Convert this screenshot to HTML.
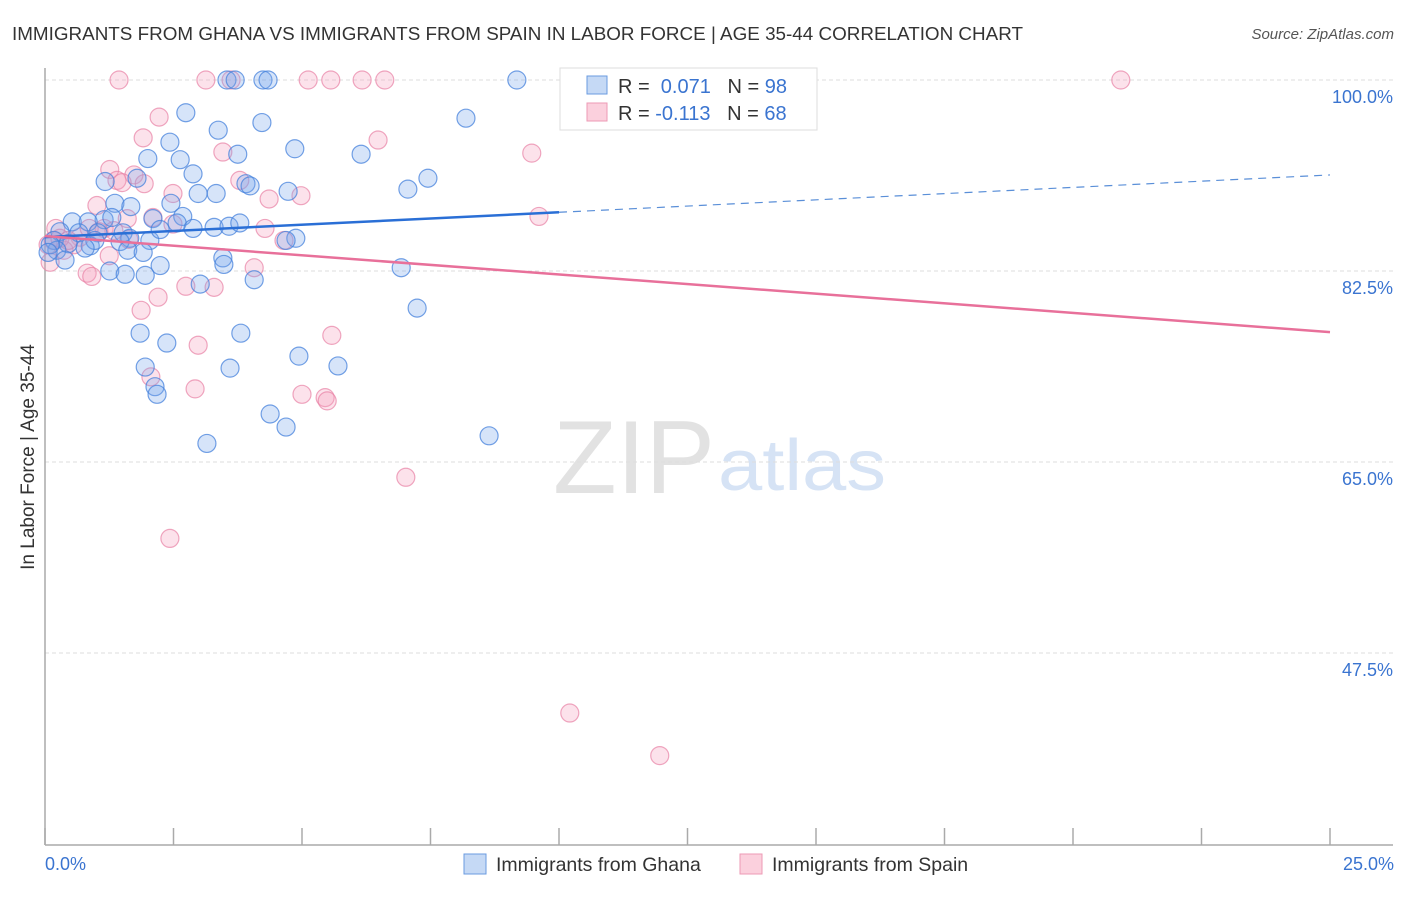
<!DOCTYPE html>
<html><head><meta charset="utf-8"><style>
body{margin:0;background:#fff;font-family:"Liberation Sans",sans-serif;}
svg text{font-family:"Liberation Sans",sans-serif;}
</style></head><body>
<svg width="1406" height="892" viewBox="0 0 1406 892">
<text x="12" y="40" font-size="18" fill="#333" textLength="1011" lengthAdjust="spacingAndGlyphs">IMMIGRANTS FROM GHANA VS IMMIGRANTS FROM SPAIN IN LABOR FORCE | AGE 35-44 CORRELATION CHART</text>
<text x="1394" y="39" font-size="15" fill="#555" text-anchor="end" font-style="italic">Source: ZipAtlas.com</text>
<g>
<text x="553" y="493" font-size="104" fill="#e2e2e2" font-family="Liberation Serif,serif" textLength="162" lengthAdjust="spacingAndGlyphs">ZIP</text>
<text x="718" y="490" font-size="72" fill="#d6e3f5" textLength="168" lengthAdjust="spacingAndGlyphs">atlas</text>
</g>
<g id="grid"></g>
<g id="axes"></g>
<g id="pts"></g>
<g id="trend"></g>
<g>
<rect x="560" y="68" width="257" height="62" fill="#fff" stroke="#ddd"/>
<rect x="587" y="76" width="20" height="18" fill="#c5d9f5" stroke="#6a9be0"/>
<rect x="587" y="103" width="20" height="18" fill="#fbd0dd" stroke="#ec9ab5"/>
<text x="618" y="93" font-size="20" fill="#333">R = <tspan fill="#3a74d0">&#160;0.071</tspan>&#160;&#160;&#160;N = <tspan fill="#3a74d0">98</tspan></text>
<text x="618" y="120" font-size="20" fill="#333">R = <tspan fill="#3a74d0">-0.113</tspan>&#160;&#160;&#160;N = <tspan fill="#3a74d0">68</tspan></text>
</g>
<g>
<rect x="464" y="854" width="22" height="20" fill="#c5d9f5" stroke="#6a9be0"/>
<text x="496" y="871" font-size="19.5" fill="#333">Immigrants from Ghana</text>
<rect x="740" y="854" width="22" height="20" fill="#fbd0dd" stroke="#ec9ab5"/>
<text x="772" y="871" font-size="19.5" fill="#333">Immigrants from Spain</text>
</g>
<text transform="translate(34,457) rotate(-90)" font-size="19" fill="#333" text-anchor="middle">In Labor Force | Age 35-44</text>
</svg>
<script>
const yTicks=[100,82.5,65,47.5];
const yTickLabels=["100.0%","82.5%","65.0%","47.5%"];
const xTickLabels=["0.0%","25.0%"];
const ghanaX=[9.18,3.54,3.70,4.24,4.34,2.74,8.19,3.37,4.22,2.43,4.86,3.75,2.00,6.15,2.63,7.45,7.06,2.88,1.17,1.79,3.91,3.99,4.73,2.98,3.33,1.36,1.67,2.45,2.10,2.68,2.57,2.88,3.29,3.58,3.79,1.15,0.53,0.84,1.30,0.29,0.66,1.03,1.52,1.65,2.04,2.24,0.18,0.45,0.88,0.97,1.46,1.61,1.91,0.23,0.39,0.78,1.26,1.56,1.95,2.24,3.02,3.46,3.48,4.07,6.93,4.88,4.69,7.24,1.85,2.37,3.81,4.94,1.95,3.60,5.70,2.14,2.18,4.38,4.69,3.15,8.64,0.10,0.06];
const ghanaY=[100,100,100,100,100,97.0,96.5,95.4,96.1,94.3,93.7,93.2,92.8,93.2,92.7,91.0,90.0,91.4,90.7,91.0,90.5,90.3,89.8,89.6,89.6,88.7,88.4,88.7,87.3,87.5,86.9,86.4,86.5,86.6,86.9,87.2,87.0,87.0,87.4,86.1,86.0,86.0,86.0,85.5,85.3,86.3,85.3,85.0,84.8,85.3,85.2,84.4,84.2,84.4,83.5,84.6,82.5,82.2,82.1,83.0,81.3,83.7,83.1,81.7,82.8,85.5,85.3,79.1,76.8,75.9,76.8,74.7,73.7,73.6,73.8,71.9,71.2,69.4,68.2,66.7,67.4,84.9,84.2];
const spainX=[1.44,3.13,3.62,5.12,5.56,6.17,6.61,20.93,2.22,1.91,6.48,9.47,3.46,1.26,1.73,1.40,1.93,1.50,3.79,2.49,4.36,4.98,1.01,1.60,2.10,9.61,2.49,1.15,1.34,4.28,4.65,0.21,0.06,0.68,0.86,1.05,1.63,0.56,0.37,0.10,0.82,0.91,1.25,4.07,2.74,3.29,2.20,1.87,2.98,5.58,2.06,2.92,5.00,5.45,5.49,7.02,2.43,10.21,11.96,0.16,0.29,0.45];
const spainY=[100,100,100,100,100,100,100,100,96.6,94.7,94.5,93.3,93.4,91.8,91.3,90.8,90.5,90.6,90.8,89.6,89.1,89.4,88.5,87.3,87.4,87.5,86.8,86.4,86.2,86.4,85.3,86.4,84.9,85.6,86.4,86.1,85.4,84.9,84.4,83.3,82.3,82.0,83.9,82.8,81.1,81.0,80.1,78.9,75.7,76.6,72.8,71.7,71.2,70.9,70.6,63.6,58.0,42.0,38.1,85.3,85.5,85.3];
const ghanaTrend=[85.6,91.3];
const spainTrend=[85.7,76.9];
const NS="http://www.w3.org/2000/svg";
const X0=45,X1=1330,XMAX=25,Y100=80,PXPER=191/17.5;
function sx(v){return X0+(v/XMAX)*(X1-X0);}
function sy(v){return Y100+(100-v)*PXPER;}
function mk(tag,attrs,parent){const e=document.createElementNS(NS,tag);for(const k in attrs)e.setAttribute(k,attrs[k]);parent.appendChild(e);return e;}
const grid=document.getElementById('grid');
yTicks.forEach((t,i)=>{
 const l=mk('line',{x1:X0,x2:1393,y1:sy(t),y2:sy(t),stroke:'#ddd','stroke-dasharray':'4,3'},grid);
 
 
 const tx=mk('text',{x:1393,y:sy(t)+23,'font-size':18,fill:'#3a74d0','text-anchor':'end'},grid);
 tx.textContent=yTickLabels[i];
 
 
});
const axes=document.getElementById('axes');
const ya=mk('line',{x1:X0,x2:X0,y1:68,y2:845,stroke:'#aaa','stroke-width':1.5},axes);


const xa=mk('line',{x1:X0,x2:1393,y1:845,y2:845,stroke:'#aaa','stroke-width':1.5},axes);


for(let v=0;v<=XMAX+0.001;v+=2.5){
 const t=mk('line',{x1:sx(v),x2:sx(v),y1:828,y2:845,stroke:'#aaa','stroke-width':1.5},axes);
 
 
}
[[0,'start',45],[25,'end',1394]].forEach((p,i)=>{
 const t=mk('text',{x:p[2],y:870,'font-size':18,fill:'#3a74d0','text-anchor':p[1]},axes);
 t.textContent=xTickLabels[i];
 
 
});
const pts=document.getElementById('pts');
spainX.forEach((x,i)=>{
 const c=mk('circle',{cx:sx(x),cy:sy(spainY[i]),r:9,fill:'rgba(244,160,188,0.3)',stroke:'rgba(232,130,165,0.7)','stroke-width':1.2},pts);
 
 
});
ghanaX.forEach((x,i)=>{
 const c=mk('circle',{cx:sx(x),cy:sy(ghanaY[i]),r:9,fill:'rgba(120,165,235,0.3)',stroke:'rgba(70,130,220,0.75)','stroke-width':1.2},pts);
 
 
});
const tr=document.getElementById('trend');
function gAt(x){return ghanaTrend[0]+(ghanaTrend[1]-ghanaTrend[0])*x/XMAX;}
const g1=mk('line',{x1:sx(0),y1:sy(gAt(0)),x2:sx(10),y2:sy(gAt(10)),stroke:'#2a6fd6','stroke-width':2.5},tr);


const g2=mk('line',{x1:sx(10),y1:sy(gAt(10)),x2:sx(25),y2:sy(gAt(25)),stroke:'#5a8fd8','stroke-width':1.2,'stroke-dasharray':'8,6'},tr);


const s1=mk('line',{x1:sx(0),y1:sy(spainTrend[0]),x2:sx(25),y2:sy(spainTrend[1]),stroke:'#e8709a','stroke-width':2.5},tr);


</script>
</body></html>
